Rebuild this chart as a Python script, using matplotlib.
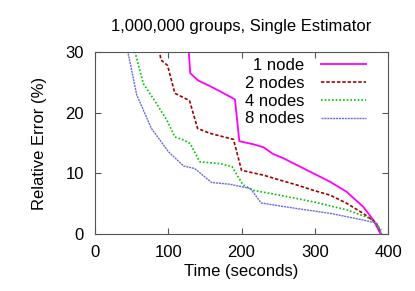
import matplotlib
matplotlib.use("Agg")
import matplotlib.pyplot as plt

# time (seconds) / relative error (%)
node1_t = [128, 128, 130, 141, 155, 168, 191, 197, 216, 230, 243, 257, 275, 298, 321, 343, 366, 380, 389]
node1_e = [40.0, 30.0, 26.5, 25.3, 24.5, 23.7, 22.2, 15.3, 14.8, 14.3, 13.2, 12.5, 11.4, 10.0, 8.6, 7.0, 4.5, 2.3, 0.2]

node2_t = [84, 90, 99, 109, 129, 140, 157, 189, 200, 230, 252, 275, 298, 321, 343, 366, 384, 391]
node2_e = [33.0, 28.7, 27.8, 23.2, 22.0, 17.4, 16.6, 15.6, 10.5, 9.7, 8.9, 8.1, 7.2, 6.4, 5.1, 3.4, 1.8, 0.0]

node4_t = [48, 66, 84, 98, 109, 121, 130, 143, 171, 187, 202, 216, 252, 298, 343, 375, 391]
node4_e = [33.0, 24.8, 21.5, 18.8, 16.0, 15.5, 14.9, 11.9, 11.6, 11.1, 8.1, 7.2, 6.4, 5.3, 4.0, 2.6, 0.7]

node8_t = [38, 57, 77, 100, 121, 136, 159, 184, 212, 227, 275, 321, 366, 384, 391]
node8_e = [34.0, 22.9, 17.4, 13.6, 11.2, 10.8, 8.5, 8.2, 7.5, 5.1, 4.2, 3.4, 2.3, 1.8, 0.1]

plt.rcParams["font.family"] = ["Liberation Sans", "DejaVu Sans"]
plt.rcParams["font.size"] = 12


def main():
    fig = plt.figure(figsize=(4.15, 2.91), dpi=100)
    ax = fig.add_axes([0.229, 0.196, 0.706, 0.625])

    ax.plot(node1_t, node1_e, color="#ff00ff", lw=1.3, label="1 node")
    ax.plot(node2_t, node2_e, color="#a00000", lw=1.2, ls=(0, (2, 1.2)), label="2 nodes")
    ax.plot(node4_t, node4_e, color="#00c000", lw=1.2, ls=(0, (1, 1.2)), label="4 nodes")
    ax.plot(node8_t, node8_e, color="#6a6ae0", lw=1.0, ls=(0, (1.5, 0.6)), label="8 nodes")

    ax.set_xlim(0, 400)
    ax.set_ylim(0, 30)
    ax.set_xticks([0, 100, 200, 300, 400])
    ax.set_yticks([0, 10, 20, 30])
    ax.tick_params(direction="in", top=True, right=True, length=4, color="#555555", pad=8)
    for s in ax.spines.values():
        s.set_color("#555555")

    ax.set_xlabel("Time (seconds)", labelpad=3)
    ax.set_ylabel("Relative Error (%)", labelpad=13)
    ax.set_title("1,000,000 groups, Single Estimator", fontsize=12, pad=15)

    ax.legend(loc="upper right", bbox_to_anchor=(0.925, 0.968), frameon=False,
              markerfirst=False, handlelength=2.7, handletextpad=1.0,
              labelspacing=0.17, borderpad=0, borderaxespad=0)

    fig.savefig("out.png", dpi=100)
    plt.close(fig)


if __name__ == "__main__":
    main()
